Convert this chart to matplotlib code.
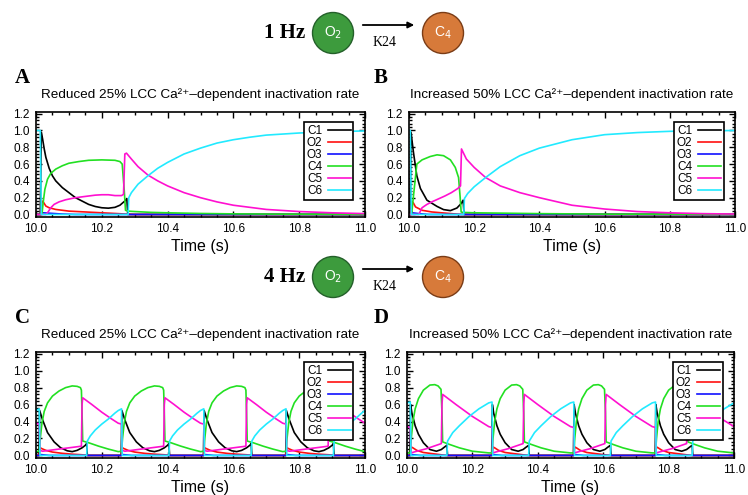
import numpy as np
import matplotlib
matplotlib.use("Agg")
import matplotlib.pyplot as plt
from matplotlib.patches import Circle
from matplotlib.ticker import MultipleLocator

plt.rcParams['font.family'] = ['Liberation Sans', 'DejaVu Sans']

names = ['C1', 'O2', 'O3', 'C4', 'C5', 'C6']
colours = ['#000000', '#ff1010', '#1010ff', '#22e022', '#ff10d0', '#22eaff']
titles = ['Reduced 25% LCC Ca²⁺–dependent inactivation rate',
          'Increased 50% LCC Ca²⁺–dependent inactivation rate']
tick_vals = [0.0, 0.2, 0.4, 0.6, 0.8, 1.0, 1.2]
x_ticks = [10.0, 10.2, 10.4, 10.6, 10.8, 11.0]

# ---- 1 Hz, reduced inactivation (A) ----
a_c1_t = [10.0, 10.013, 10.016, 10.02, 10.025, 10.03, 10.04, 10.05, 10.06, 10.08, 10.1, 10.12,
          10.14, 10.16, 10.18, 10.2, 10.22, 10.24, 10.255, 10.27, 10.276, 10.279, 11.0]
a_c1_v = [0.0, 0.0, 0.98, 0.9, 0.78, 0.68, 0.55, 0.46, 0.40, 0.32, 0.26, 0.2,
          0.16, 0.12, 0.095, 0.08, 0.075, 0.085, 0.11, 0.16, 0.19, 0.0, 0.0]
a_o2_t = [10.0, 10.015, 10.018, 10.022, 10.03, 10.04, 10.06, 10.1, 10.15, 10.2, 10.25, 10.27, 10.3, 11.0]
a_o2_v = [0.0, 0.0, 0.16, 0.15, 0.1, 0.08, 0.06, 0.04, 0.03, 0.02, 0.01, 0.005, 0.0, 0.0]
a_o3_t = [10.0, 10.015, 10.02, 10.04, 10.08, 10.12, 11.0]
a_o3_v = [0.0, 0.0, 0.02, 0.015, 0.005, 0.0, 0.0]
a_c4_t = [10.0, 10.018, 10.022, 10.027, 10.035, 10.045, 10.06, 10.08, 10.1, 10.13, 10.16, 10.2,
          10.24, 10.255, 10.262, 10.268, 10.272, 10.28, 10.3, 10.35, 10.4, 10.5, 10.6, 10.8, 11.0]
a_c4_v = [0.0, 0.0, 0.15, 0.3, 0.42, 0.49, 0.54, 0.58, 0.61, 0.63, 0.645, 0.65,
          0.645, 0.63, 0.6, 0.3, 0.05, 0.04, 0.035, 0.025, 0.02, 0.012, 0.007, 0.003, 0.001]
a_c5_t = [10.0, 10.03, 10.035, 10.045, 10.055, 10.07, 10.09, 10.12, 10.15, 10.18, 10.2, 10.22,
          10.24, 10.26, 10.266, 10.27, 10.275, 10.29, 10.31, 10.34, 10.37, 10.4, 10.45, 10.5,
          10.55, 10.6, 10.65, 10.7, 10.8, 10.9, 11.0]
a_c5_v = [0.0, 0.0, 0.02, 0.08, 0.12, 0.15, 0.175, 0.2, 0.215, 0.23, 0.235, 0.235,
          0.225, 0.225, 0.24, 0.72, 0.73, 0.66, 0.57, 0.47, 0.4, 0.34, 0.26, 0.2,
          0.15, 0.11, 0.085, 0.06, 0.035, 0.02, 0.01]
a_c6_t = [10.0, 10.013, 10.016, 10.28, 10.282, 10.29, 10.31, 10.34, 10.37, 10.4, 10.45, 10.5,
          10.55, 10.6, 10.65, 10.7, 10.8, 10.9, 11.0]
a_c6_v = [1.0, 1.0, 0.0, 0.0, 0.2, 0.26, 0.36, 0.46, 0.55, 0.62, 0.72, 0.79,
          0.85, 0.89, 0.92, 0.945, 0.97, 0.985, 0.995]

# ---- 1 Hz, increased inactivation (B) ----
b_c1_t = [10.0, 10.003, 10.006, 10.014, 10.024, 10.035, 10.055, 10.086, 10.106, 10.127,
          10.147, 10.16, 10.166, 10.169, 11.0]
b_c1_v = [0.0, 0.0, 0.98, 0.73, 0.46, 0.31, 0.17, 0.096, 0.058, 0.046, 0.077, 0.13, 0.17, 0.0, 0.0]
b_o2_t = [10.0, 10.005, 10.009, 10.013, 10.02, 10.04, 10.07, 10.1, 10.13, 10.16, 11.0]
b_o2_v = [0.0, 0.0, 0.15, 0.14, 0.09, 0.05, 0.03, 0.02, 0.01, 0.0, 0.0]
b_o3_t = [10.0, 10.005, 10.01, 10.03, 10.06, 11.0]
b_o3_v = [0.0, 0.0, 0.02, 0.01, 0.0, 0.0]
b_c4_t = [10.0, 10.008, 10.014, 10.024, 10.04, 10.065, 10.086, 10.106, 10.127, 10.142,
          10.152, 10.157, 10.16, 10.165, 10.2, 10.3, 10.4, 10.6, 11.0]
b_c4_v = [0.0, 0.0, 0.23, 0.6, 0.65, 0.69, 0.71, 0.70, 0.65, 0.56, 0.44, 0.2, 0.03, 0.025,
          0.02, 0.015, 0.01, 0.004, 0.001]
b_c5_t = [10.0, 10.03, 10.04, 10.055, 10.07, 10.09, 10.11, 10.13, 10.15, 10.155, 10.158,
          10.161, 10.176, 10.2, 10.235, 10.28, 10.34, 10.4, 10.5, 10.6, 10.7, 10.8, 10.9, 11.0]
b_c5_v = [0.0, 0.0, 0.08, 0.12, 0.15, 0.185, 0.22, 0.26, 0.31, 0.33, 0.34,
          0.78, 0.66, 0.56, 0.44, 0.34, 0.26, 0.2, 0.11, 0.065, 0.035, 0.02, 0.01, 0.005]
b_c6_t = [10.0, 10.004, 10.007, 10.168, 10.17, 10.18, 10.2, 10.235, 10.28, 10.34, 10.4,
          10.5, 10.6, 10.7, 10.8, 10.9, 11.0]
b_c6_v = [1.0, 1.0, 0.0, 0.0, 0.19, 0.25, 0.33, 0.44, 0.57, 0.7, 0.79,
          0.89, 0.95, 0.975, 0.99, 0.995, 1.0]

# ---- 4 Hz: one beat cycle (seconds from beat start), repeated at each beat ----
beats = [9.75, 10.0, 10.25, 10.5, 10.75]

c_c1_t = [0.0, 0.009, 0.011, 0.02, 0.035, 0.055, 0.075, 0.095, 0.11, 0.125, 0.14, 0.15, 0.154, 0.156, 0.25]
c_c1_v = [0.0, 0.0, 0.53, 0.42, 0.27, 0.16, 0.09, 0.055, 0.045, 0.06, 0.09, 0.12, 0.14, 0.0, 0.0]
c_o2_t = [0.0, 0.009, 0.013, 0.018, 0.03, 0.05, 0.08, 0.11, 0.14, 0.16, 0.25]
c_o2_v = [0.0, 0.0, 0.09, 0.08, 0.06, 0.04, 0.025, 0.015, 0.008, 0.0, 0.0]
c_o3_t = [0.0, 0.01, 0.015, 0.04, 0.25]
c_o3_v = [0.0, 0.0, 0.01, 0.0, 0.0]
c_c4_t = [0.0, 0.01, 0.013, 0.018, 0.025, 0.035, 0.05, 0.07, 0.09, 0.11, 0.125, 0.135,
          0.138, 0.14, 0.142, 0.16, 0.19, 0.22, 0.25]
c_c4_v = [0.045, 0.05, 0.2, 0.38, 0.52, 0.62, 0.7, 0.76, 0.8, 0.82, 0.815, 0.8,
          0.77, 0.5, 0.17, 0.15, 0.11, 0.075, 0.045]
c_c5_t = [0.0, 0.01, 0.012, 0.02, 0.04, 0.07, 0.1, 0.13, 0.138, 0.14, 0.142, 0.17, 0.2, 0.23, 0.25]
c_c5_v = [0.38, 0.37, 0.06, 0.05, 0.06, 0.075, 0.09, 0.105, 0.11, 0.6, 0.68, 0.6, 0.51, 0.43, 0.38]
c_c6_t = [0.0, 0.01, 0.012, 0.154, 0.156, 0.165, 0.18, 0.2, 0.22, 0.24, 0.25]
c_c6_v = [0.53, 0.55, 0.0, 0.0, 0.17, 0.23, 0.3, 0.37, 0.43, 0.5, 0.53]

d_c1_t = [0.0, 0.009, 0.011, 0.015, 0.025, 0.035, 0.05, 0.07, 0.09, 0.105, 0.115, 0.122, 0.124, 0.25]
d_c1_v = [0.0, 0.0, 0.6, 0.5, 0.35, 0.25, 0.15, 0.07, 0.05, 0.07, 0.1, 0.12, 0.0, 0.0]
d_o2_t = [0.0, 0.009, 0.013, 0.018, 0.03, 0.05, 0.08, 0.1, 0.12, 0.25]
d_o2_v = [0.0, 0.0, 0.1, 0.09, 0.06, 0.035, 0.02, 0.01, 0.0, 0.0]
d_o3_t = [0.0, 0.01, 0.015, 0.04, 0.25]
d_o3_v = [0.0, 0.0, 0.01, 0.0, 0.0]
d_c4_t = [0.0, 0.01, 0.013, 0.018, 0.025, 0.035, 0.05, 0.07, 0.085, 0.095, 0.104, 0.107,
          0.109, 0.13, 0.16, 0.2, 0.25]
d_c4_v = [0.03, 0.03, 0.2, 0.4, 0.55, 0.67, 0.77, 0.83, 0.835, 0.82, 0.78, 0.5,
          0.16, 0.13, 0.09, 0.05, 0.03]
d_c5_t = [0.0, 0.01, 0.012, 0.03, 0.06, 0.09, 0.105, 0.107, 0.109, 0.15, 0.2, 0.25]
d_c5_v = [0.34, 0.33, 0.03, 0.05, 0.08, 0.12, 0.14, 0.6, 0.72, 0.6, 0.46, 0.34]
d_c6_t = [0.0, 0.01, 0.012, 0.122, 0.124, 0.14, 0.16, 0.19, 0.22, 0.25]
d_c6_v = [0.62, 0.63, 0.0, 0.0, 0.17, 0.27, 0.35, 0.46, 0.55, 0.62]


def repeat_beats(t, v):
    tt = np.concatenate([b + np.asarray(t) for b in beats])
    vv = np.tile(np.asarray(v), len(beats))
    return tt, vv


panel_a = [(a_c1_t, a_c1_v), (a_o2_t, a_o2_v), (a_o3_t, a_o3_v),
           (a_c4_t, a_c4_v), (a_c5_t, a_c5_v), (a_c6_t, a_c6_v)]
panel_b = [(b_c1_t, b_c1_v), (b_o2_t, b_o2_v), (b_o3_t, b_o3_v),
           (b_c4_t, b_c4_v), (b_c5_t, b_c5_v), (b_c6_t, b_c6_v)]
panel_c = [repeat_beats(t, v) for t, v in [(c_c1_t, c_c1_v), (c_o2_t, c_o2_v), (c_o3_t, c_o3_v),
                                           (c_c4_t, c_c4_v), (c_c5_t, c_c5_v), (c_c6_t, c_c6_v)]]
panel_d = [repeat_beats(t, v) for t, v in [(d_c1_t, d_c1_v), (d_o2_t, d_o2_v), (d_o3_t, d_o3_v),
                                           (d_c4_t, d_c4_v), (d_c5_t, d_c5_v), (d_c6_t, d_c6_v)]]

W, H = 748, 495
fig = plt.figure(figsize=(W / 100, H / 100), dpi=100)


def px_axes(x0, y0, x1, y1):
    # pixel box (top-left origin) -> figure fraction
    return fig.add_axes([x0 / W, 1 - y1 / H, (x1 - x0) / W, (y1 - y0) / H])


def draw_panel(ax, curves, title):
    for (t, v), c, n in zip(curves, colours, names):
        ax.plot(t, v, color=c, lw=1.2, label=n)
    ax.set_xlim(10.0, 11.0)
    ax.set_ylim(-0.03, 1.22)
    ax.set_xticks(x_ticks)
    ax.set_yticks(tick_vals)
    ax.xaxis.set_minor_locator(MultipleLocator(0.05))
    ax.yaxis.set_minor_locator(MultipleLocator(0.04))
    ax.tick_params(which='both', direction='in', top=True, right=True, width=1.0)
    ax.tick_params(which='major', length=4, labelsize=8.5, pad=4.5)
    ax.tick_params(which='minor', length=2)
    for s in ax.spines.values():
        s.set_linewidth(1.2)
    ax.set_xlabel('Time (s)', fontsize=11.5, labelpad=2.5)
    ax.set_title(title, fontsize=9.7, pad=10)
    leg = ax.legend(loc='upper right', bbox_to_anchor=(0.965, 0.905), borderaxespad=0,
                    fontsize=8.5, markerfirst=False, labelspacing=0.0, handlelength=1.9,
                    handletextpad=0.5, borderpad=0.25, fancybox=False, framealpha=1)
    leg.get_frame().set_edgecolor('black')
    leg.get_frame().set_linewidth(1.2)


ax_a = px_axes(36, 112, 365, 217)
ax_b = px_axes(409, 112, 735, 217)
ax_c = px_axes(36, 352, 365, 458)
ax_d = px_axes(407, 352, 734, 458)
draw_panel(ax_a, panel_a, titles[0])
draw_panel(ax_b, panel_b, titles[1])
draw_panel(ax_c, panel_c, titles[0])
draw_panel(ax_d, panel_d, titles[1])

# panel letters
for letter, x, y in [('A', 22, 78), ('B', 381, 78), ('C', 22, 318), ('D', 381, 318)]:
    fig.text(x / W, 1 - y / H, letter, family='Liberation Serif', weight='bold',
             fontsize=15, ha='center', va='center')

# O2 -> C4 transition diagrams
ov = fig.add_axes([0, 0, 1, 1], zorder=5)
ov.set_xlim(0, W)
ov.set_ylim(H, 0)
ov.axis('off')
for rate, yc in [('1 Hz', 33), ('4 Hz', 277)]:
    ov.text(285, yc, rate, family='Liberation Serif', weight='bold', fontsize=15,
            ha='center', va='center')
    ov.add_patch(Circle((333, yc), 20.5, fc='#3d9b3d', ec='#24602a', lw=1.0))
    ov.text(333, yc, 'O$_2$', color='white', fontsize=10, ha='center', va='center')
    ov.add_patch(Circle((443, yc), 20.5, fc='#d77a3a', ec='#7a3c16', lw=1.0))
    ov.text(443, yc, 'C$_4$', color='white', fontsize=10, ha='center', va='center')
    ov.annotate('', xy=(417, yc - 8), xytext=(360, yc - 8),
                arrowprops=dict(arrowstyle='-|>', color='black', lw=1.3, mutation_scale=9))
    ov.text(385, yc + 9, 'K24', family='Liberation Serif', fontsize=10,
            ha='center', va='center')

fig.savefig('out.png', dpi=100)
